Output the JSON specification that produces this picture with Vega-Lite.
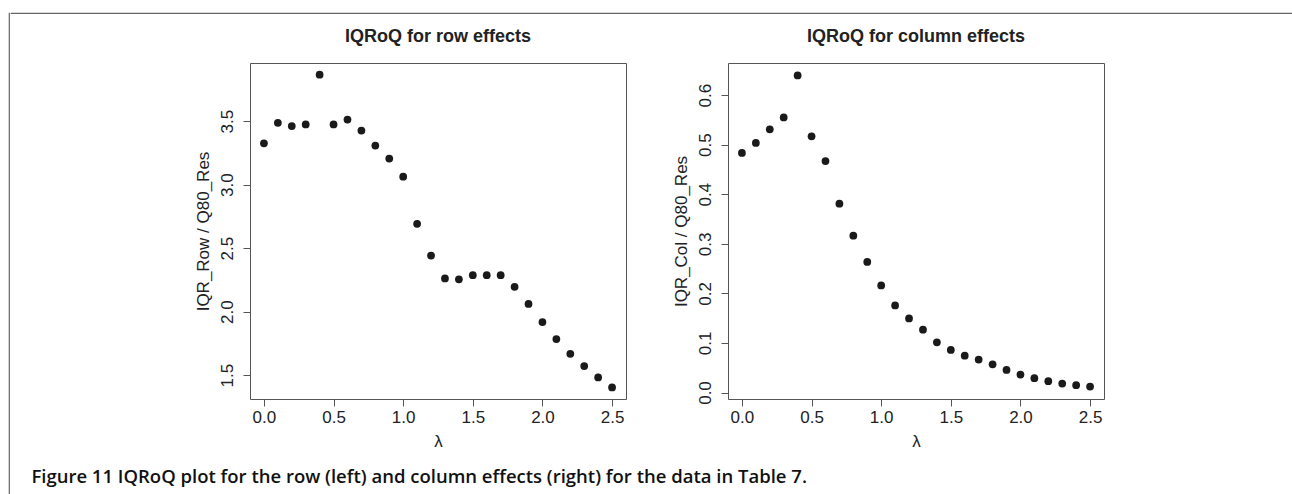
{
  "$schema": "https://vega.github.io/schema/vega-lite/v6.json",
  "padding": {"left": 8, "top": 12, "right": 0, "bottom": 0},
  "background": "white",
  "datasets": {
    "row": [
      {"lambda": 0.0, "ratio": 3.326}, {"lambda": 0.1, "ratio": 3.487}, {"lambda": 0.2, "ratio": 3.461},
      {"lambda": 0.3, "ratio": 3.474}, {"lambda": 0.4, "ratio": 3.866}, {"lambda": 0.5, "ratio": 3.474},
      {"lambda": 0.6, "ratio": 3.513}, {"lambda": 0.7, "ratio": 3.426}, {"lambda": 0.8, "ratio": 3.308},
      {"lambda": 0.9, "ratio": 3.205}, {"lambda": 1.0, "ratio": 3.063}, {"lambda": 1.1, "ratio": 2.692},
      {"lambda": 1.2, "ratio": 2.442}, {"lambda": 1.3, "ratio": 2.261}, {"lambda": 1.4, "ratio": 2.255},
      {"lambda": 1.5, "ratio": 2.287}, {"lambda": 1.6, "ratio": 2.287}, {"lambda": 1.7, "ratio": 2.287},
      {"lambda": 1.8, "ratio": 2.195}, {"lambda": 1.9, "ratio": 2.061}, {"lambda": 2.0, "ratio": 1.918},
      {"lambda": 2.1, "ratio": 1.784}, {"lambda": 2.2, "ratio": 1.668}, {"lambda": 2.3, "ratio": 1.571},
      {"lambda": 2.4, "ratio": 1.482}, {"lambda": 2.5, "ratio": 1.403}
    ],
    "col": [
      {"lambda": 0.0, "ratio": 0.4834}, {"lambda": 0.1, "ratio": 0.5034}, {"lambda": 0.2, "ratio": 0.531},
      {"lambda": 0.3, "ratio": 0.555}, {"lambda": 0.4, "ratio": 0.6396}, {"lambda": 0.5, "ratio": 0.517},
      {"lambda": 0.6, "ratio": 0.467}, {"lambda": 0.7, "ratio": 0.381}, {"lambda": 0.8, "ratio": 0.3164},
      {"lambda": 0.9, "ratio": 0.2635}, {"lambda": 1.0, "ratio": 0.2159}, {"lambda": 1.1, "ratio": 0.1756},
      {"lambda": 1.2, "ratio": 0.1495}, {"lambda": 1.3, "ratio": 0.1267}, {"lambda": 1.4, "ratio": 0.1012},
      {"lambda": 1.5, "ratio": 0.0858}, {"lambda": 1.6, "ratio": 0.0744}, {"lambda": 1.7, "ratio": 0.0664},
      {"lambda": 1.8, "ratio": 0.057}, {"lambda": 1.9, "ratio": 0.0456}, {"lambda": 2.0, "ratio": 0.0362},
      {"lambda": 2.1, "ratio": 0.0288}, {"lambda": 2.2, "ratio": 0.0228}, {"lambda": 2.3, "ratio": 0.0181},
      {"lambda": 2.4, "ratio": 0.0147}, {"lambda": 2.5, "ratio": 0.0121}
    ]
  },
  "spacing": 0,
  "hconcat": [
    {
      "data": {"values": []},
      "mark": "point",
      "width": 0.01,
      "height": 482,
      "view": {"stroke": "#666", "strokeWidth": 1.2}
    },
    {
      "spacing": 13,
      "title": {
        "text": "Figure 11 IQRoQ plot for the row (left) and column effects (right) for the data in Table 7.",
        "orient": "bottom",
        "anchor": "start",
        "dx": 21,
        "offset": 18,
        "font": "Open Sans",
        "fontSize": 18.5,
        "fontWeight": 600,
        "color": "#111"
      },
      "vconcat": [
        {
          "data": {"values": []},
          "mark": "point",
          "width": 1284,
          "height": 0.01,
          "view": {"stroke": "#666", "strokeWidth": 1.2}
        },
        {
          "spacing": 44,
          "hconcat": [
            {
              "data": {"values": []},
              "mark": "point",
              "width": 138,
              "height": 10,
              "view": {"stroke": null}
            },
            {
              "title": {"text": "IQRoQ for row effects"},
              "data": {"name": "row"},
              "mark": {"type": "circle", "size": 60, "color": "#1a1a1a", "opacity": 1},
              "width": 376,
              "height": 336,
              "encoding": {
                "x": {
                  "field": "lambda", "type": "quantitative",
                  "scale": {"domain": [-0.1, 2.6], "nice": false, "zero": false},
                  "axis": {"values": [0, 0.5, 1, 1.5, 2, 2.5], "format": ".1f", "title": "λ"}
                },
                "y": {
                  "field": "ratio", "type": "quantitative",
                  "scale": {"domain": [1.312, 3.958], "nice": false, "zero": false},
                  "axis": {"values": [1.5, 2, 2.5, 3, 3.5], "format": ".1f", "title": "IQR_Row / Q80_Res"}
                }
              }
            },
            {
              "title": {"text": "IQRoQ for column effects"},
              "data": {"name": "col"},
              "mark": {"type": "circle", "size": 60, "color": "#1a1a1a", "opacity": 1},
              "width": 376,
              "height": 336,
              "encoding": {
                "x": {
                  "field": "lambda", "type": "quantitative",
                  "scale": {"domain": [-0.1, 2.6], "nice": false, "zero": false},
                  "axis": {"values": [0, 0.5, 1, 1.5, 2, 2.5], "format": ".1f", "title": "λ"}
                },
                "y": {
                  "field": "ratio", "type": "quantitative",
                  "scale": {"domain": [-0.0131, 0.6648], "nice": false, "zero": false},
                  "axis": {"values": [0, 0.1, 0.2, 0.3, 0.4, 0.5, 0.6], "format": ".1f", "title": "IQR_Col / Q80_Res"}
                }
              }
            }
          ]
        }
      ]
    }
  ],
  "config": {
    "font": "Liberation Sans",
    "view": {"stroke": "#555", "strokeWidth": 1},
    "axis": {
      "domain": false,
      "grid": false,
      "ticks": true,
      "tickColor": "#555",
      "tickSize": 7,
      "labelFont": "Liberation Sans",
      "labelFontSize": 17,
      "labelColor": "#222",
      "titleFont": "Liberation Sans",
      "titleFontSize": 17,
      "titleFontWeight": "normal",
      "titleColor": "#222"
    },
    "axisX": {"labelPadding": 3, "titlePadding": 8},
    "axisY": {"labelAngle": 270, "labelAlign": "center", "labelBaseline": "alphabetic", "labelPadding": 11, "titlePadding": 6},
    "title": {"font": "Liberation Sans", "fontSize": 18, "fontWeight": "bold", "color": "#222", "anchor": "middle", "offset": 17}
  }
}
